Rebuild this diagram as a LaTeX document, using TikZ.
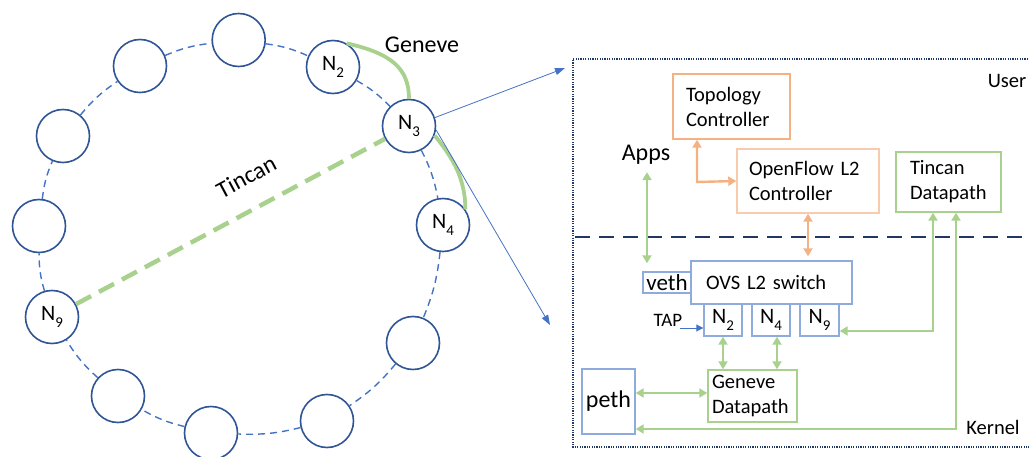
\documentclass[tikz,border=0pt]{standalone}
\usepackage{fontspec}
\setmainfont{Carlito}
\usetikzlibrary{arrows.meta,calc}
\definecolor{navy}{HTML}{2F5597}
\definecolor{ringblue}{HTML}{4472C4}
\definecolor{dkline}{HTML}{1F3864}
\definecolor{grn}{HTML}{A9D18E}
\definecolor{org}{HTML}{F4B183}
\definecolor{orgl}{HTML}{F8CBAD}
\definecolor{bbox}{HTML}{8FAADC}
\newcommand\nsub[1]{N\raisebox{-0.3em}{\scalebox{0.68}{#1}}}
\begin{document}
\begin{tikzpicture}[x=1pt,y=-1pt,
  font=\fontsize{20.5}{25}\selectfont,
  peer/.style={circle,draw=navy,line width=1.6pt,minimum size=53pt,inner sep=0pt,fill=white,font=\fontsize{22}{22}\selectfont},
  ring/.style={draw=ringblue,line width=1.4pt,dash pattern=on 7pt off 5pt,bend left=8},
  gcurve/.style={draw=grn,line width=3.8pt},
  tincan/.style={draw=grn,line width=4.5pt,dash pattern=on 17pt off 9pt},
  zoomarrow/.style={draw=ringblue,line width=0.8pt,-{Triangle[length=10pt,width=7pt]}},
  anybox/.style={draw,line width=1.4pt,inner ysep=0pt,align=left},
  obox/.style={anybox,draw=org},
  gbox/.style={anybox,draw=grn},
  bluebox/.style={anybox,draw=bbox},
  garrow/.style={draw=grn,line width=2.4pt,{Triangle[length=8pt,width=9pt]}-{Triangle[length=8pt,width=9pt]}},
  oarrow/.style={draw=org,line width=2.4pt,{Triangle[length=8pt,width=9pt]}-{Triangle[length=8pt,width=9pt]}},
  tarrow/.style={draw=ringblue,line width=0.9pt,-{Triangle[length=7pt,width=7pt]}}
]
\useasboundingbox (0,0) rectangle (1029,457);

% ---------- left: ring of peers ----------
\node[peer] (c1) at (238.7,40) {};
\node[peer] (n2) at (333,67) {\nsub{2}};
\node[peer] (n3) at (409,126) {\nsub{3}};
\node[peer] (n4) at (443,225) {\nsub{4}};
\node[peer] (c8) at (413,343) {};
\node[peer] (c9) at (327,421) {};
\node[peer] (c10) at (211,433) {};
\node[peer] (c11) at (118,396) {};
\node[peer] (n9) at (52,317) {\nsub{9}};
\node[peer] (c4) at (39,226) {};
\node[peer] (c3) at (63,136) {};
\node[peer] (c2) at (140,66) {};

\foreach \a/\b in {c1/n2,n2/n3,n3/n4,n4/c8,c8/c9,c9/c10,c10/c11,c11/n9,n9/c4,c4/c3,c3/c2,c2/c1}
  \draw[ring] (\a) to (\b);

\draw[gcurve] (n2.60) .. controls +(45,10) and +(0,-30) .. (n3.north);
\draw[gcurve] (n3.-20) .. controls +(14,18) and +(0,-35) .. (n4.35);
\draw[tincan] (n9) -- node[sloped,pos=0.6,yshift=32pt,font=\fontsize{24}{24}\selectfont] (tinlbl) {Tincan} (n3);

\node (genlbl) at (422,45) {\fontsize{24}{24}\selectfont Geneve};

\coordinate (zA) at (565,68);
\coordinate (zB) at (550,325);
\draw[zoomarrow] (n3.18) -- (zA);
\draw[zoomarrow] (n3.-8) -- (zB);

% ---------- right: host detail ----------
\coordinate (fr1) at (1040,59);
\coordinate (fr2) at (573,59);
\coordinate (fr3) at (573,447);
\coordinate (fr4) at (1040,447);
\draw[dkline,line width=1.2pt,dash pattern=on 1.2pt off 1.2pt] (fr1) -- (fr2) -- (fr3) -- (fr4);
\coordinate (dv1) at (575,237);
\coordinate (dv2) at (1029,237);
\draw[dkline,line width=2.4pt,dash pattern=on 15pt off 9pt] (dv1) -- (dv2);

\node (user) at (1007,81) {User};
\node (kernel) at (993,427) {Kernel};

\node[obox,inner xsep=13pt,text width=91pt,minimum height=65pt] (topo) at (731.5,106.5) {Topology\\Controller};
\node[anybox,draw=orgl,inner xsep=12pt,text width=118pt,minimum height=64pt] (of) at (808,181) {OpenFlow L2\\Controller};
\node[gbox,inner xsep=14pt,text width=77pt,minimum height=60pt] (td) at (948.5,182) {Tincan\\Datapath};
\node (apps) at (646,155) {\fontsize{24}{24}\selectfont Apps};

\node[bluebox,inner xsep=15pt,text width=131pt,minimum height=43pt] (ovs) at (771.5,282.5) {OVS L2 switch};
\node[bluebox,inner sep=0pt,minimum width=48pt,minimum height=21pt,font=\fontsize{23}{23}\selectfont] (veth) at (667,282.5) {veth};
\node[bluebox,inner sep=0pt,minimum width=38pt,minimum height=32pt,font=\fontsize{22}{22}\selectfont] (n2b) at (723,320) {\nsub{2}};
\node[bluebox,inner sep=0pt,minimum width=38pt,minimum height=32pt,font=\fontsize{22}{22}\selectfont] (n4b) at (771,320) {\nsub{4}};
\node[bluebox,inner sep=0pt,minimum width=39pt,minimum height=32pt,font=\fontsize{22}{22}\selectfont] (n9b) at (819.5,320) {\nsub{9}};
\node[gbox,inner xsep=4pt,text width=81pt,minimum height=52pt] (gd) at (752.5,396) {Geneve\\Datapath};
\node[bluebox,inner sep=0pt,minimum width=53pt,minimum height=65pt,font=\fontsize{24}{24}\selectfont] (peth) at (608.5,401.5) {peth};

\node[font=\fontsize{19}{19}\selectfont] (tap) at (668,320) {TAP};
\coordinate (tapS) at (680,328);
\draw[tarrow] (tapS) -- (tapS -| n2b.west);

% orange connectors
\coordinate (ob) at (697,182);
\draw[oarrow] (ob |- topo.south) -- (ob) -- (of.west);
\draw[oarrow] (of.south) -- ([yshift=4pt]of.south |- ovs.north);

% green connectors
\coordinate (ap) at (647,0);
\draw[garrow,shorten <=4pt] (ap |- apps.south) -- ([yshift=8pt]ap |- veth.north);
\coordinate (t1) at (933,331);
\draw[garrow] (t1 |- td.south) -- (t1) -- (t1 -| n9b.east);
\coordinate (t2) at (956,429);
\draw[garrow] (t2 |- td.south) -- (t2) -- (t2 -| peth.east);
\draw[garrow] (n2b.south) -- (n2b.south |- gd.north);
\coordinate (n4x) at (777,0);
\draw[garrow] (n4x |- n4b.south) -- (n4x |- gd.north);
\coordinate (pg) at (0,393);
\draw[garrow] (pg -| peth.east) -- (pg -| gd.west);
\end{tikzpicture}
\end{document}
